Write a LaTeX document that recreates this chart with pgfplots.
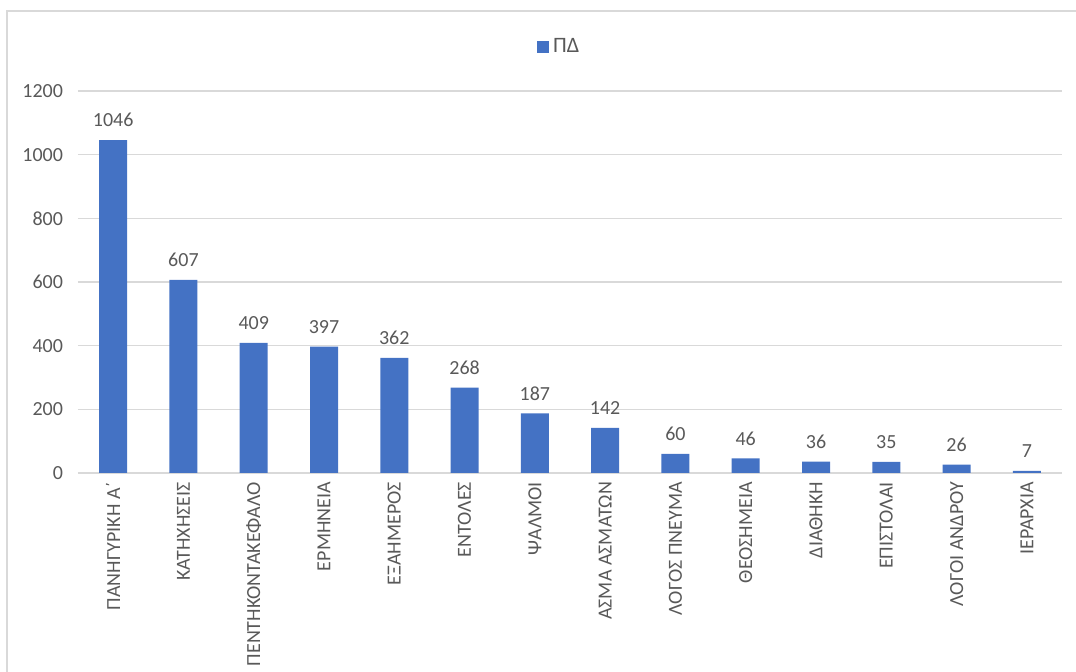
\documentclass[border=0pt]{standalone}
\usepackage{fontspec}
\setmainfont{Carlito}
\usepackage{pgfplots}
\pgfplotsset{compat=1.18}
\definecolor{barblue}{HTML}{4472C4}
\definecolor{gridgray}{HTML}{D9D9D9}
\definecolor{txtgray}{HTML}{595959}
\begin{document}
\begin{tikzpicture}
\useasboundingbox (-39pt,-99.5pt) rectangle (499pt,236.5pt);
\draw[gridgray, line width=1pt] (-35.5pt,-110pt) -- (-35.5pt,231pt) -- (510pt,231pt);
\begin{axis}[
  at={(0,0)}, anchor=south west,
  scale only axis, width=492pt, height=191pt,
  ybar, bar width=14pt,
  xmin=-0.5, xmax=13.5, ymin=0, ymax=1200,
  xtick=data,
  xticklabels={ΠΑΝΗΓΥΡΙΚΗ Α΄, ΚΑΤΗΧΗΣΕΙΣ, ΠΕΝΤΗΚΟΝΤΑΚΕΦΑΛΟ, ΕΡΜΗΝΕΙΑ, ΕΞΑΗΜΕΡΟΣ, ΕΝΤΟΛΕΣ, ΨΑΛΜΟΙ, ΑΣΜΑ ΑΣΜΑΤΩΝ, ΛΟΓΟΣ ΠΝΕΥΜΑ, ΘΕΟΣΗΜΕΙΑ, ΔΙΑΘΗΚΗ, ΕΠΙΣΤΟΛΑΙ, ΛΟΓΟΙ ΑΝΔΡΟΥ, ΙΕΡΑΡΧΙΑ},
  x tick label style={rotate=90, anchor=east, font=\fontsize{10}{11}\selectfont, text=txtgray, xshift=-1pt},
  ytick={0,200,...,1200},
  y tick label style={font=\fontsize{10}{11}\selectfont, text=txtgray, xshift=-4pt},
  /pgf/number format/assume math mode=true,
  /pgf/number format/1000 sep={},
  major tick length=0pt,
  ymajorgrids, grid style={gridgray, line width=0.6pt},
  axis x line*=bottom, axis y line*=left,
  x axis line style={gridgray, line width=0.6pt, -},
  y axis line style={draw=none},
  nodes near coords,
  every node near coord/.append style={font=\fontsize{10}{11}\selectfont, text=txtgray, yshift=3pt},
  legend style={at={(0.49,1.115)}, anchor=center, draw=none, fill=none,
    font=\fontsize{11}{12}\selectfont, text=txtgray},
  legend image code/.code={\fill[barblue] (0pt,-3pt) rectangle (6pt,3pt);},
]
\addplot[fill=barblue, draw=none] coordinates {
  (0,1046) (1,607) (2,409) (3,397) (4,362) (5,268) (6,187)
  (7,142) (8,60) (9,46) (10,36) (11,35) (12,26) (13,7)};
\addlegendentry{ΠΔ}
\end{axis}
\end{tikzpicture}
\end{document}
